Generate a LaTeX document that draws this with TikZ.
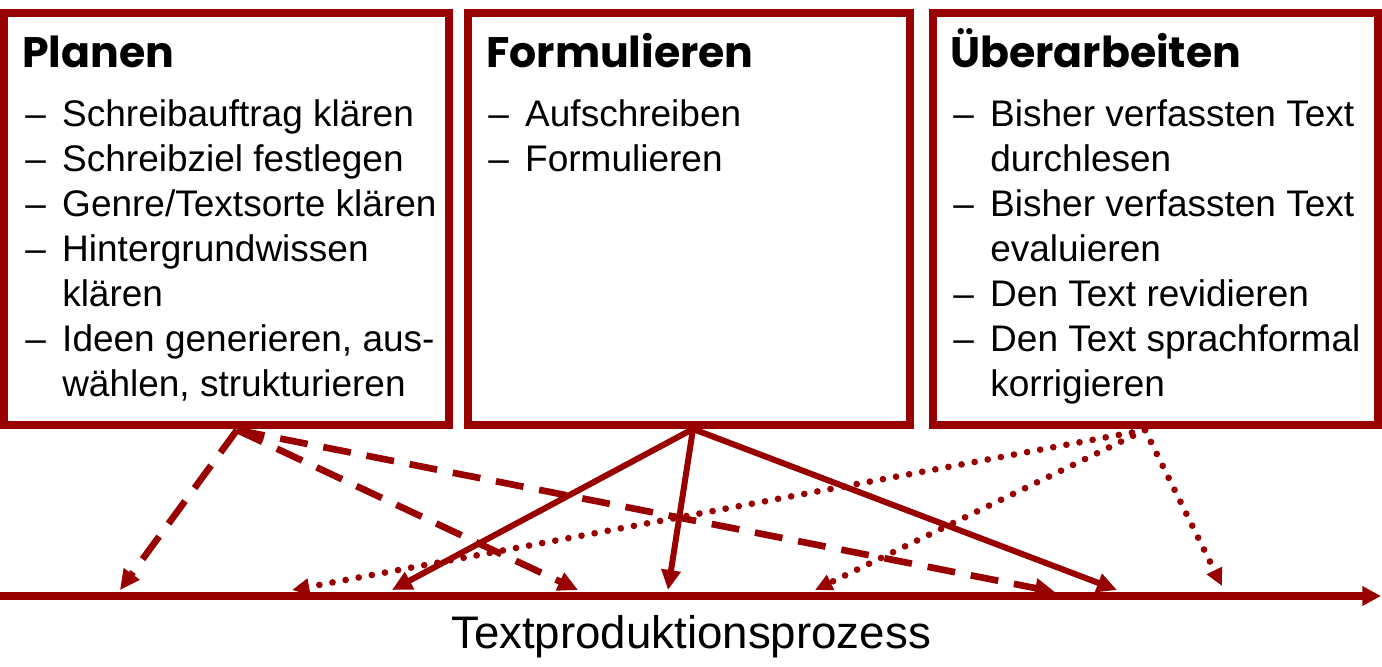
\documentclass[tikz,border=0pt]{standalone}
\usepackage{fontspec}
\setmainfont{Liberation Sans}
\newfontfamily\headfont{Poppins}
\usetikzlibrary{arrows.meta}
\definecolor{dred}{RGB}{153,0,0}
\newcommand{\itemfont}{\fontsize{27.75pt}{33.75pt}\selectfont}
\newcommand{\dsh}{\makebox[27.75pt][l]{–}}
\newcommand{\ind}{\hspace*{27.75pt}}
\begin{document}
\begin{tikzpicture}[x=0.75pt,y=-0.75pt,
  box/.style={draw=dred, line width=6pt, inner sep=0pt, minimum height=308.25pt},
  head/.style={anchor=base west, inner sep=0pt, font=\headfont\bfseries\fontsize{32pt}{38pt}\selectfont},
  items/.style={anchor=base west, inner sep=0pt, align=left, font=\itemfont},
  conn/.style={draw=dred, -{Triangle[length=15pt,width=14pt]}},
  solidarrow/.style={conn, line width=4.5pt},
  dasharrow/.style={conn, line width=5pt, dash pattern=on 21pt off 12pt},
  dotarrow/.style={conn, line width=5pt, line cap=round, dash pattern=on 0pt off 10pt, -{Triangle[length=13pt,width=12pt]}},
  axis/.style={draw=dred, line width=5.5pt, -{Triangle[length=14pt,width=14pt]}}
]
\useasboundingbox (0,0) rectangle (1382,667);

% boxes
\node[box, minimum width=333.75pt] (plan) at (226.5,219) {};
\node[box, minimum width=331.5pt] (form) at (689,219) {};
\node[box, minimum width=333.75pt] (ueber) at (1155.5,219) {};

% headings
\node[head] (planh) at (22,68) {Planen};
\node[head] (formh) at (486,68) {Formulieren};
\node[head] (ueberh) at (950,68) {Überarbeiten};

% items
\node[items] (planl) at (25,127) {\itemfont\begin{tabular}[t]{@{}l@{}}
\dsh Schreibauftrag klären\\
\dsh Schreibziel festlegen\\
\dsh Genre/Textsorte klären\\
\dsh Hintergrundwissen\\
\ind klären\\
\dsh Ideen generieren, aus-\\
\ind wählen, strukturieren
\end{tabular}};
\node[items] (forml) at (488,127) {\itemfont\begin{tabular}[t]{@{}l@{}}
\dsh Aufschreiben\\
\dsh Formulieren
\end{tabular}};
\node[items] (ueberl) at (953,127) {\itemfont\begin{tabular}[t]{@{}l@{}}
\dsh Bisher verfassten Text\\
\ind durchlesen\\
\dsh Bisher verfassten Text\\
\ind evaluieren\\
\dsh Den Text revidieren\\
\dsh Den Text sprachformal\\
\ind korrigieren
\end{tabular}};

% axis
\coordinate (ax0) at (0,596);
\coordinate (ax1) at (1381,596);
\draw[axis] (ax0) -- (ax1);
\node[anchor=base, inner sep=0pt, font=\fontsize{34.25pt}{40pt}\selectfont] (axlabel) at (691,648) {Textproduktionsprozess};

% start points
\coordinate (ps) at (237,430);
\coordinate (fs) at (693,429);
\coordinate (us) at (1145,430);

% targets
\coordinate (d1) at (120,590);
\coordinate (d2) at (578,590);
\coordinate (d3) at (1055,592);
\coordinate (s1) at (392,590);
\coordinate (s2) at (668,590);
\coordinate (s3) at (1117,590);
\coordinate (o1) at (292,590);
\coordinate (o2) at (815,590);
\coordinate (o3) at (1222,586);

\draw[dasharrow] (ps) -- (d1);
\draw[dasharrow] (ps) -- (d2);
\draw[dasharrow] (ps) -- (d3);
\draw[solidarrow] (fs) -- (s1);
\draw[solidarrow] (fs) -- (s2);
\draw[solidarrow] (fs) -- (s3);
\draw[dotarrow] (us) -- (o1);
\draw[dotarrow] (us) -- (o2);
\draw[dotarrow] (us) -- (o3);
\end{tikzpicture}
\end{document}
